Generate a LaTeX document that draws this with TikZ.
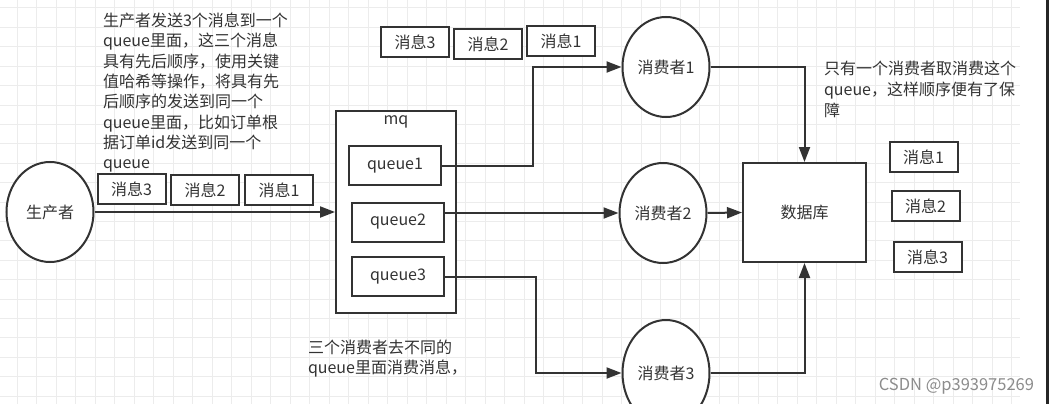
\documentclass[tikz,border=0pt]{standalone}
\usepackage{fontspec}
\setmainfont{Noto Sans CJK SC}
\usetikzlibrary{shapes.geometric,arrows.meta}
\definecolor{ink}{HTML}{333333}
\definecolor{gridline}{HTML}{ECECEC}
\definecolor{wmgray}{HTML}{8C8C8C}

\begin{document}
\begin{tikzpicture}[x=1pt,y=-1pt,ink,line width=2pt,
    font=\fontsize{16}{20.3}\selectfont,
    box/.style={draw,rectangle,fill=white,inner sep=0pt},
    msg/.style={box,minimum width=68pt,minimum height=30pt},
    queuebox/.style={box,minimum width=92pt,minimum height=39pt},
    actor/.style={draw,ellipse,fill=white,inner sep=0pt,minimum width=87pt,minimum height=100pt},
    flow/.style={-{Triangle[length=15pt,width=11pt]}},
    note/.style={align=left,anchor=north west,inner sep=0pt}]
  \useasboundingbox (0,0) rectangle (1049,404);
  \fill[white] (0,0) rectangle (1049,404);

  % background grid
  \begin{scope}[gridline,line width=1pt]
  \foreach \gx in {1,...,52} \draw ({-2.5+19.5*\gx},0) -- ++(0,404);
  \foreach \gy in {0,...,20} \draw (0,{8+19.4*\gy}) -- ++(1020,0);
  \end{scope}
  \draw[black!85,line width=3pt] (1047.5,0) -- (1047.5,404);

  % producer and broker
  \node[actor] (prod) at (50,212) {生产者};
  \node[box,minimum width=120pt,minimum height=202pt] (mq) at (396,212) {};
  \node[anchor=north,inner sep=5pt] (mqname) at (mq.north) {mq};
  \node[queuebox] (q1) at (395,165.5) {queue1};
  \node[queuebox] (q2) at (398,222) {queue2};
  \node[queuebox] (q3) at (398,276.5) {queue3};

  % consumers and database
  \node[actor] (c1) at (666,67) {消费者1};
  \node[actor] (c2) at (663,213) {消费者2};
  \node[actor,minimum height=106pt] (c3) at (666,373) {消费者3};
  \node[box,minimum width=123pt,minimum height=99pt] (db) at (804.5,212.5) {数据库};

  % messages
  \node[msg] (m3) at (131.5,189) {消息3};
  \node[msg] (m2) at (205,190) {消息2};
  \node[msg] (m1) at (279,190) {消息1};
  \node[msg] (t3) at (415,42) {消息3};
  \node[msg] (t2) at (488,44) {消息2};
  \node[msg] (t1) at (561,41) {消息1};
  \node[msg] (r1) at (923.5,157) {消息1};
  \node[msg] (r2) at (925.5,206) {消息2};
  \node[msg] (r3) at (927.5,257) {消息3};

  % flows
  \draw[flow] (prod.east) -- (prod.east -| mq.west);
  \draw[flow] (q1.east) -- ++(91,0) |- (c1.west);
  \draw[flow] (q2.east |- c2.west) -- (c2.west);
  \draw[flow] (q3.east) -- ++(91,0) |- (c3.west);
  \draw[flow] (c1.east) -| (db.north);
  \draw[flow] (c2.east) -- (db.west);
  \draw[flow] (c3.east) -| (db.south);

  % notes
  \node[note] (leftnote) at (102,12) {生产者发送3个消息到一个\\queue里面，这三个消息\\具有先后顺序，使用关键\\值哈希等操作，将具有先\\后顺序的发送到同一个\\queue里面，比如订单根\\据订单id发送到同一个\\queue};
  \node[note,font=\fontsize{16}{21}\selectfont] (rightnote) at (823,60) {只有一个消费者取消费这个\\queue，这样顺序便有了保\\障};
  \node[note] (lownote) at (307,339) {三个消费者去不同的\\queue里面消费消息，};
  \node[wmgray,anchor=east,inner sep=0pt,font=\fontsize{16.5}{18}\selectfont] (csdn) at (1035,386) {CSDN @p393975269};
\end{tikzpicture}
\end{document}
